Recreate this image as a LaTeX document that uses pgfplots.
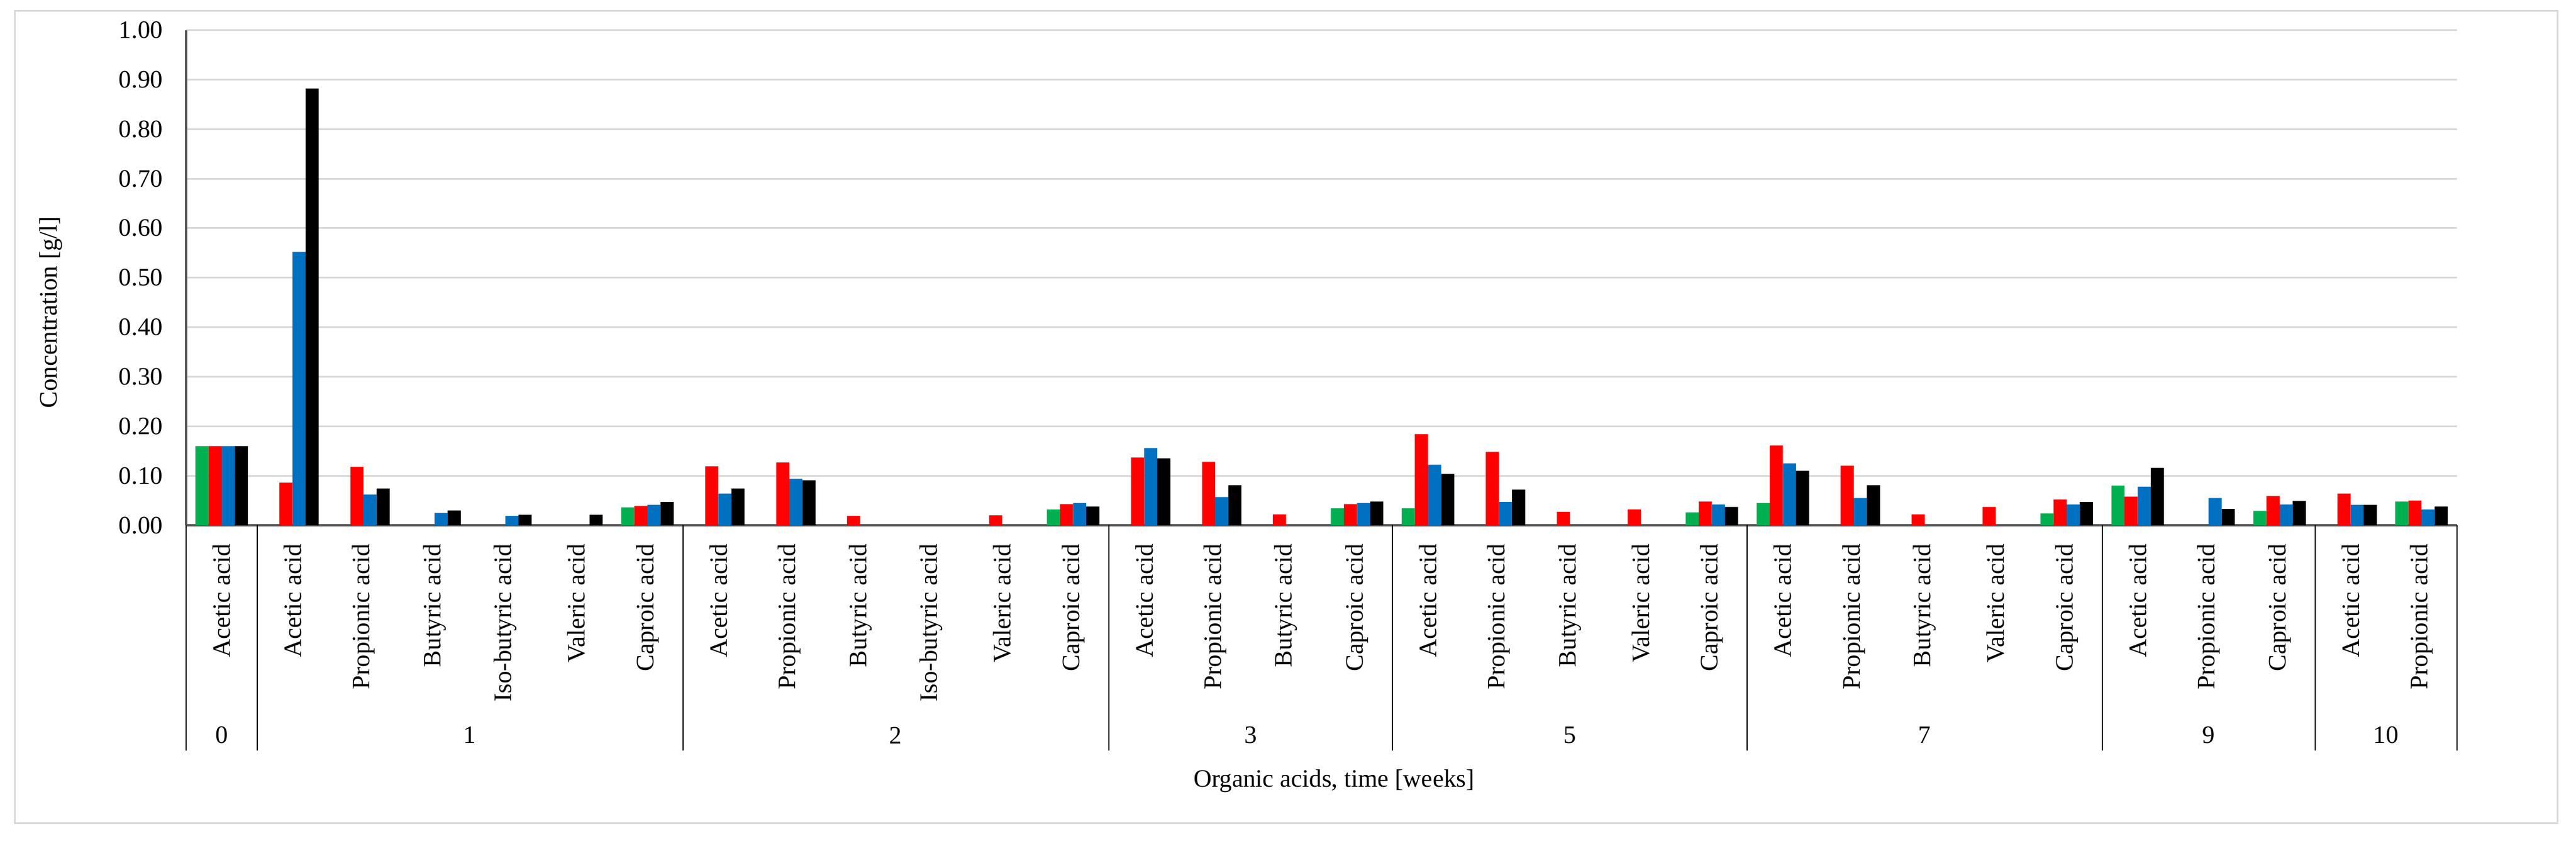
\documentclass[border=0pt]{standalone}
\usepackage{fontspec}
\setmainfont{Liberation Serif}
\usepackage{pgfplots}
\pgfplotsset{compat=1.18}
\definecolor{xlgreen}{HTML}{00B050}
\definecolor{xlred}{HTML}{FF0000}
\definecolor{xlblue}{HTML}{0070C0}
\begin{document}
\fontsize{10.75}{12}\selectfont
\begin{tikzpicture}
\useasboundingbox (0,0) rectangle (1104pt,360pt);
\draw[gray!30, line width=0.75pt] (6.25pt,7.5pt) rectangle (1096pt,355.5pt);
\begin{axis}[
  at={(79.75pt,135pt)}, anchor=south west,
  scale only axis, width=973.25pt, height=212.125pt,
  xmin=-0.5, xmax=31.5, ymin=0, ymax=1,
  clip=false,
  axis x line*=bottom, axis y line*=left,
  axis line style={draw=black!65, line width=0.8pt},
  major tick length=0pt,
  ytick={0,0.1,0.2,0.3,0.4,0.5,0.6,0.7,0.8,0.9,1},
  ymajorgrids, grid style={gray!30, line width=0.75pt},
  /pgf/number format/assume math mode=true,
  yticklabel style={/pgf/number format/.cd, fixed, fixed zerofill, precision=2, /tikz/.cd,
    anchor=east, inner xsep=9.75pt, inner ysep=0pt},
  xtick={0,...,31},
  xticklabels={Acetic acid,
    Acetic acid,Propionic acid,Butyric acid,Iso-butyric acid,Valeric acid,Caproic acid,
    Acetic acid,Propionic acid,Butyric acid,Iso-butyric acid,Valeric acid,Caproic acid,
    Acetic acid,Propionic acid,Butyric acid,Caproic acid,
    Acetic acid,Propionic acid,Butyric acid,Valeric acid,Caproic acid,
    Acetic acid,Propionic acid,Butyric acid,Valeric acid,Caproic acid,
    Acetic acid,Propionic acid,Caproic acid,
    Acetic acid,Propionic acid},
  xticklabel style={rotate=90, anchor=east, inner xsep=7.75pt, inner ysep=0pt},
  xlabel={Organic acids, time [weeks]},
  xlabel style={at={(axis description cs:0.5055,-0.517)}, anchor=center},
  ylabel={Concentration [g/l]},
  ylabel style={at={(axis description cs:-0.0596,0.43)}, anchor=center},
]
% green
\addplot[ybar, bar width=0.185, bar shift=-0.2775, fill=xlgreen, draw=none] coordinates {
  (0,0.16) (6,0.036) (12,0.032) (16,0.034) (17,0.034) (21,0.026)
  (22,0.045) (26,0.024) (27,0.080) (29,0.029) (31,0.048)
};
% red
\addplot[ybar, bar width=0.185, bar shift=-0.0925, fill=xlred, draw=none] coordinates {
  (0,0.16) (1,0.086) (2,0.118) (6,0.039) (7,0.119) (8,0.127) (9,0.019)
  (11,0.020) (12,0.043) (13,0.137) (14,0.128) (15,0.022) (16,0.043)
  (17,0.184) (18,0.148) (19,0.027) (20,0.032) (21,0.048) (22,0.161)
  (23,0.120) (24,0.022) (25,0.037) (26,0.052) (27,0.058) (29,0.059)
  (30,0.064) (31,0.050)
};
% blue
\addplot[ybar, bar width=0.185, bar shift=0.0925, fill=xlblue, draw=none] coordinates {
  (0,0.16) (1,0.552) (2,0.062) (3,0.025) (4,0.019) (6,0.041) (7,0.064)
  (8,0.094) (12,0.045) (13,0.156) (14,0.057) (16,0.045) (17,0.122)
  (18,0.047) (21,0.042) (22,0.125) (23,0.055) (26,0.042) (27,0.078)
  (28,0.055) (29,0.042) (30,0.041) (31,0.032)
};
% black
\addplot[ybar, bar width=0.185, bar shift=0.2775, fill=black, draw=none] coordinates {
  (0,0.16) (1,0.882) (2,0.074) (3,0.030) (4,0.021) (5,0.021) (6,0.047)
  (7,0.074) (8,0.091) (12,0.038) (13,0.135) (14,0.081) (16,0.048)
  (17,0.104) (18,0.072) (21,0.037) (22,0.110) (23,0.081) (26,0.047)
  (27,0.116) (28,0.033) (29,0.049) (30,0.041) (31,0.038)
};
% week separators and group labels
\pgfplotsinvokeforeach{-0.5,0.5,6.5,12.5,16.5,21.5,26.5,29.5,31.5}{
  \draw[black, line width=0.5pt] (axis cs:#1,0) -- (axis cs:#1,-0.455);
}
\node at (axis cs:0,-0.424) {0};
\node at (axis cs:3.5,-0.424) {1};
\node at (axis cs:9.5,-0.424) {2};
\node at (axis cs:14.5,-0.424) {3};
\node at (axis cs:19,-0.424) {5};
\node at (axis cs:24,-0.424) {7};
\node at (axis cs:28,-0.424) {9};
\node at (axis cs:30.5,-0.424) {10};
\end{axis}
\end{tikzpicture}
\end{document}
